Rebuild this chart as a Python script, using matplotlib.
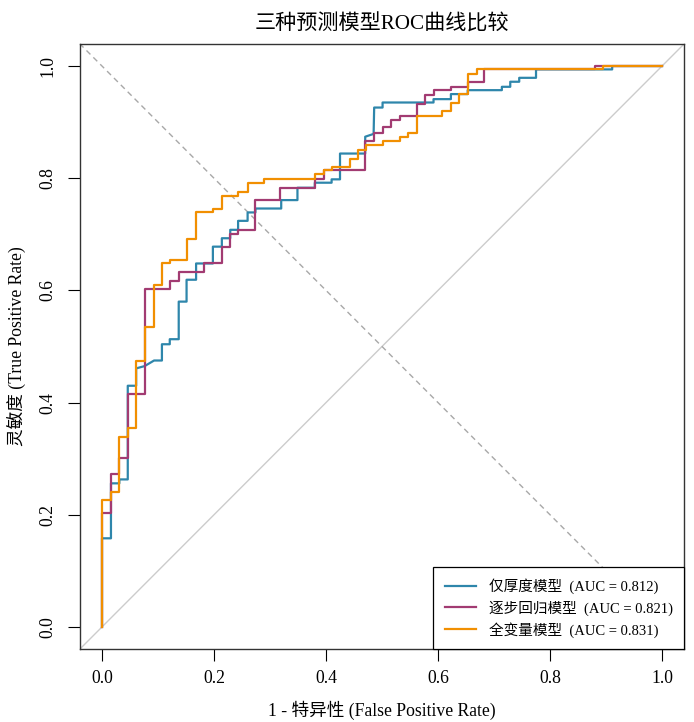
import matplotlib
matplotlib.use("Agg")
import matplotlib.pyplot as plt

plt.rcParams['font.family'] = ['Liberation Serif', 'Noto Sans CJK SC']

# ROC curve vertices (fpr, tpr)
fpr_thick = [0, 0, 0.016, 0.016, 0.031, 0.031, 0.046, 0.046, 0.061, 0.061, 0.076, 0.093,
             0.107, 0.107, 0.121, 0.121, 0.137, 0.137, 0.151, 0.151, 0.168, 0.168, 0.198, 0.198,
             0.214, 0.214, 0.229, 0.229, 0.243, 0.243, 0.26, 0.26, 0.274, 0.274, 0.32, 0.32,
             0.349, 0.349, 0.38, 0.38, 0.41, 0.41, 0.425, 0.425, 0.47, 0.47, 0.485, 0.486,
             0.501, 0.501, 0.592, 0.592, 0.623, 0.623, 0.653, 0.653, 0.714, 0.714, 0.729, 0.729,
             0.745, 0.745, 0.775, 0.775, 0.911, 0.911, 1.0]
tpr_thick = [0, 0.158, 0.158, 0.256, 0.256, 0.263, 0.263, 0.43, 0.43, 0.461, 0.465, 0.475,
             0.475, 0.504, 0.504, 0.513, 0.513, 0.58, 0.58, 0.619, 0.619, 0.648, 0.648, 0.678,
             0.678, 0.693, 0.693, 0.708, 0.708, 0.724, 0.724, 0.739, 0.739, 0.746, 0.746, 0.761,
             0.761, 0.783, 0.783, 0.792, 0.792, 0.798, 0.798, 0.844, 0.844, 0.874, 0.879, 0.926,
             0.926, 0.935, 0.935, 0.941, 0.941, 0.95, 0.95, 0.957, 0.957, 0.963, 0.963, 0.972,
             0.972, 0.979, 0.979, 0.994, 0.994, 1.0, 1.0]

fpr_step = [0, 0, 0.016, 0.016, 0.031, 0.031, 0.046, 0.046, 0.076, 0.076, 0.121, 0.121,
            0.137, 0.137, 0.183, 0.183, 0.214, 0.214, 0.229, 0.229, 0.243, 0.243, 0.274, 0.274,
            0.318, 0.318, 0.38, 0.38, 0.396, 0.396, 0.47, 0.47, 0.486, 0.486, 0.501, 0.501,
            0.516, 0.516, 0.533, 0.533, 0.5625, 0.5625, 0.577, 0.577, 0.592, 0.592, 0.623, 0.623,
            0.654, 0.654, 0.683, 0.683, 0.881, 0.881, 1.0]
tpr_step = [0, 0.204, 0.204, 0.273, 0.273, 0.301, 0.301, 0.415, 0.415, 0.602, 0.602, 0.617,
            0.617, 0.632, 0.632, 0.648, 0.648, 0.678, 0.678, 0.70, 0.70, 0.708, 0.708, 0.761,
            0.761, 0.783, 0.783, 0.798, 0.798, 0.814, 0.814, 0.866, 0.866, 0.881, 0.881, 0.891,
            0.891, 0.904, 0.904, 0.911, 0.911, 0.933, 0.933, 0.948, 0.948, 0.957, 0.957, 0.963,
            0.963, 0.972, 0.972, 0.994, 0.994, 1.0, 1.0]

fpr_full = [0, 0, 0.016, 0.016, 0.031, 0.031, 0.046, 0.046, 0.061, 0.061, 0.076, 0.076,
            0.092, 0.092, 0.107, 0.107, 0.121, 0.121, 0.151, 0.151, 0.168, 0.168, 0.199, 0.199,
            0.214, 0.214, 0.243, 0.243, 0.26, 0.26, 0.289, 0.289, 0.38, 0.38, 0.396, 0.396,
            0.411, 0.411, 0.442, 0.442, 0.457, 0.457, 0.471, 0.471, 0.501, 0.501, 0.532, 0.532,
            0.547, 0.547, 0.5625, 0.5625, 0.608, 0.608, 0.623, 0.623, 0.638, 0.638, 0.654, 0.654,
            0.669, 0.669, 0.894, 0.894, 1.0]
tpr_full = [0, 0.226, 0.226, 0.241, 0.241, 0.339, 0.339, 0.354, 0.354, 0.475, 0.475, 0.535,
            0.535, 0.61, 0.61, 0.648, 0.648, 0.655, 0.655, 0.691, 0.691, 0.739, 0.739, 0.745,
            0.745, 0.768, 0.768, 0.775, 0.775, 0.791, 0.791, 0.798, 0.798, 0.807, 0.807, 0.815,
            0.815, 0.82, 0.82, 0.835, 0.835, 0.851, 0.851, 0.859, 0.859, 0.866, 0.866, 0.874,
            0.874, 0.881, 0.881, 0.911, 0.911, 0.919, 0.919, 0.935, 0.935, 0.95, 0.95, 0.986,
            0.986, 0.994, 0.994, 1.0, 1.0]

labels = ['仅厚度模型  (AUC = 0.812)', '逐步回归模型  (AUC = 0.821)', '全变量模型  (AUC = 0.831)']
colors = ['#2E86AB', '#A23B72', '#F18F01']
ticks = [0.0, 0.2, 0.4, 0.6, 0.8, 1.0]

fig = plt.figure(figsize=(6.94, 7.22), dpi=100)
ax = fig.add_axes([0.1147, 0.1006, 0.8715, 0.839])
ax.set_xlim(-0.04, 1.04)
ax.set_ylim(-0.04, 1.04)

# reference diagonals across the whole plot
ax.axline((0, 0), slope=1, color='#cccccc', lw=1, zorder=1)
ax.axline((0, 1), slope=-1, color='#a8a8a8', lw=1, ls=(0, (4, 3)), zorder=1)

for fx, ty, col, lab in zip([fpr_thick, fpr_step, fpr_full],
                            [tpr_thick, tpr_step, tpr_full], colors, labels):
    ax.plot(fx, ty, color=col, lw=1.6, label=lab, zorder=3)

ax.set_xticks(ticks)
ax.set_yticks(ticks)
ax.set_xticklabels([f'{t:.1f}' for t in ticks], fontsize=12.7)
ax.set_yticklabels([f'{t:.1f}' for t in ticks], fontsize=12.7, rotation=90, va='center')
ax.tick_params(length=8.5, width=0.8)
ax.tick_params(axis='x', pad=6)
ax.tick_params(axis='y', pad=8.5)
for s in ax.spines.values():
    s.set_linewidth(1.0)
    s.set_color('#333333')

ax.set_xlabel('1 - 特异性 (False Positive Rate)', fontsize=12.7, labelpad=10)
ax.set_ylabel('灵敏度 (True Positive Rate)', fontsize=12.7, labelpad=9)
ax.set_title('三种预测模型ROC曲线比较', fontsize=15.2, pad=10)

leg = ax.legend(loc='lower right', bbox_to_anchor=(1, 0), borderaxespad=0,
                fancybox=False, edgecolor='black', framealpha=1, fontsize=10.5,
                handlelength=2.1, handletextpad=0.9, labelspacing=0.43, borderpad=0.8)
leg.get_frame().set_linewidth(0.9)

fig.savefig('out.png', dpi=100)
